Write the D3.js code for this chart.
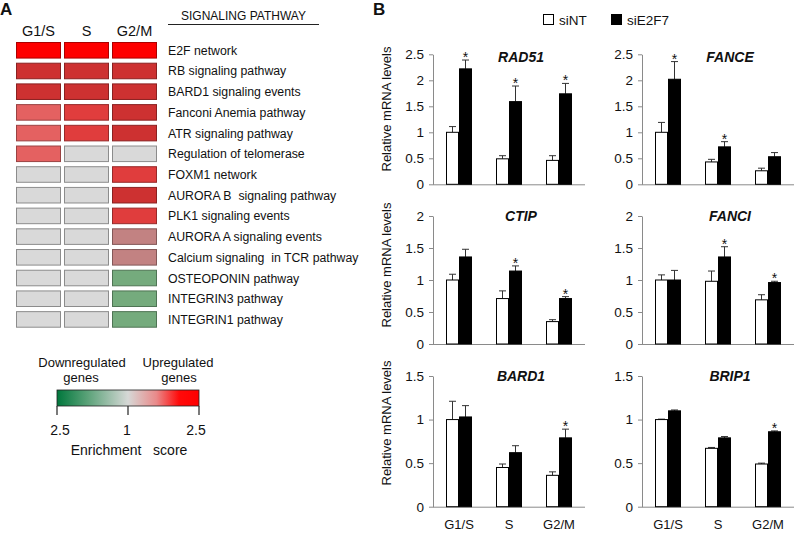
<!DOCTYPE html>
<html><head><meta charset="utf-8">
<script src="https://cdn.jsdelivr.net/npm/d3@7"></script>
<style>
body{margin:0;background:#fff}
text{font-family:Arial,"Liberation Sans",sans-serif;fill:#111}
</style>
</head><body>
<svg id="c" width="794" height="533" xmlns="http://www.w3.org/2000/svg"></svg>
<script>
// ---------- Panel A data ----------
const phases = ["G1/S", "S", "G2/M"];
const pathways = ["E2F network", "RB signaling pathway", "BARD1 signaling events",
  "Fanconi Anemia pathway", "ATR signaling pathway", "Regulation of telomerase",
  "FOXM1 network", "AURORA B  signaling pathway", "PLK1 signaling events",
  "AURORA A signaling events", "Calcium signaling  in TCR pathway",
  "OSTEOPONIN pathway", "INTEGRIN3 pathway", "INTEGRIN1 pathway"];
// enrichment level per pathway (3 strongest up, 0 = not enriched, -1 = down)
const levelG1S = [3, 2, 2, 1, 1, 1, 0, 0, 0, 0, 0, 0, 0, 0];
const levelS   = [3, 2, 2, 1.5, 1.5, 0, 0, 0, 0, 0, 0, 0, 0, 0];
const levelG2M = [3, 2, 2, 2, 2, 0, 1.5, 2, 1.5, 0.5, 0.5, -1, -1, -1];
const levelKeys = [3, 2, 1.5, 1, 0.5, 0, -1];
const levelColors = ["#fe0000", "#cd3131", "#e03d3d", "#e46161", "#c28282", "#d9d9d9", "#75ab7d"];
const colorbarTickLabels = ["2.5", "1", "2.5"];

// ---------- Panel B data ----------
const genes = ["RAD51", "FANCE", "CTIP", "FANCI", "BARD1", "BRIP1"];
const siNT_RAD51 = [1.00, 0.49, 0.46], siNTerr_RAD51 = [0.11, 0.06, 0.09];
const siE2F7_RAD51 = [2.22, 1.59, 1.74], siE2F7err_RAD51 = [0.17, 0.30, 0.20];
const sig_RAD51 = [1, 1, 1];
const siNT_FANCE = [1.00, 0.43, 0.26], siNTerr_FANCE = [0.19, 0.05, 0.05];
const siE2F7_FANCE = [2.02, 0.72, 0.53], siE2F7err_FANCE = [0.34, 0.10, 0.08];
const sig_FANCE = [1, 1, 0];
const siNT_CTIP = [1.00, 0.71, 0.35], siNTerr_CTIP = [0.09, 0.12, 0.03];
const siE2F7_CTIP = [1.36, 1.14, 0.71], siE2F7err_CTIP = [0.12, 0.08, 0.03];
const sig_CTIP = [0, 1, 1];
const siNT_FANCI = [1.00, 0.98, 0.69], siNTerr_FANCI = [0.08, 0.16, 0.08];
const siE2F7_FANCI = [1.00, 1.36, 0.96], siE2F7err_FANCI = [0.15, 0.16, 0.02];
const sig_FANCI = [0, 1, 1];
const siNT_BARD1 = [1.00, 0.45, 0.36], siNTerr_BARD1 = [0.21, 0.04, 0.04];
const siE2F7_BARD1 = [1.03, 0.62, 0.79], siE2F7err_BARD1 = [0.13, 0.08, 0.10];
const sig_BARD1 = [0, 0, 1];
const siNT_BRIP1 = [1.00, 0.67, 0.49], siNTerr_BRIP1 = [0.005, 0.01, 0.01];
const siE2F7_BRIP1 = [1.10, 0.79, 0.86], siE2F7err_BRIP1 = [0.01, 0.015, 0.01];
const sig_BRIP1 = [0, 0, 1];
const yMaxRow = [2.5, 2, 1.5];
const yTicksRow = [[0, 0.5, 1, 1.5, 2, 2.5], [0, 0.5, 1, 1.5, 2], [0, 0.5, 1, 1.5]];
const seriesNames = ["siNT", "siE2F7"];

const geneTable = {
  RAD51: [siNT_RAD51, siNTerr_RAD51, siE2F7_RAD51, siE2F7err_RAD51, sig_RAD51],
  FANCE: [siNT_FANCE, siNTerr_FANCE, siE2F7_FANCE, siE2F7err_FANCE, sig_FANCE],
  CTIP: [siNT_CTIP, siNTerr_CTIP, siE2F7_CTIP, siE2F7err_CTIP, sig_CTIP],
  FANCI: [siNT_FANCI, siNTerr_FANCI, siE2F7_FANCI, siE2F7err_FANCI, sig_FANCI],
  BARD1: [siNT_BARD1, siNTerr_BARD1, siE2F7_BARD1, siE2F7err_BARD1, sig_BARD1],
  BRIP1: [siNT_BRIP1, siNTerr_BRIP1, siE2F7_BRIP1, siE2F7err_BRIP1, sig_BRIP1]
};

const svg = d3.select("#c");

// ================= Panel A =================
svg.append("text").attr("x", 0).attr("y", 15).attr("font-size", 17).attr("font-weight", "bold").text("A");

const hx = d3.scaleBand().domain(phases).range([16, 157]).paddingInner(0.0625);
const hy = d3.scaleBand().domain(pathways).range([42, 327.7]).paddingInner(0.2);
const hColor = d3.scaleOrdinal().domain(levelKeys).range(levelColors);

svg.selectAll("text.ph").data(phases).enter().append("text")
  .attr("class", "ph")
  .attr("x", d => hx(d) + hx.bandwidth() / 2).attr("y", 36)
  .attr("text-anchor", "middle").attr("font-size", 14.5).text(d => d);

svg.append("text").attr("x", 181).attr("y", 20).attr("font-size", 12).text("SIGNALING PATHWAY");
svg.append("line").attr("x1", 168).attr("x2", 319).attr("y1", 24.5).attr("y2", 24.5)
  .attr("stroke", "#222").attr("stroke-width", 1);

const levelsByPhase = [levelG1S, levelS, levelG2M];
const cells = [];
pathways.forEach((p, i) => phases.forEach((ph, j) => cells.push({p, ph, v: levelsByPhase[j][i]})));
svg.selectAll("rect.cell").data(cells).enter().append("rect")
  .attr("class", "cell")
  .attr("x", d => hx(d.ph) + 0.5).attr("y", d => hy(d.p) + 0.5)
  .attr("width", hx.bandwidth() - 1).attr("height", hy.bandwidth() - 1)
  .attr("fill", d => hColor(d.v))
  .attr("stroke", d => d.v === 0 ? "#8c8c8c" : d3.color(hColor(d.v)).darker(1.1))
  .attr("stroke-width", 1);

svg.selectAll("text.pw").data(pathways).enter().append("text")
  .attr("class", "pw")
  .attr("x", 168).attr("y", d => hy(d) + hy.bandwidth() / 2 + 4.5)
  .attr("font-size", 12.3).style("white-space", "pre").attr("xml:space", "preserve").text(d => d);

// colour bar
const defs = svg.append("defs");
const grad = defs.append("linearGradient").attr("id", "gbar").attr("x1", "0%").attr("x2", "100%");
[[0, "#00773c"], [0.22, "#5da37a"], [0.5, "#d6d8d6"], [0.7, "#e98a8a"], [0.86, "#ff0a0a"], [1, "#ff0000"]]
  .forEach(s => grad.append("stop").attr("offset", s[0]).attr("stop-color", s[1]));
const cbx = d3.scaleLinear().domain([0, 2]).range([57, 199]);
svg.append("rect").attr("x", cbx(0)).attr("y", 390).attr("width", cbx(2) - cbx(0)).attr("height", 16)
  .attr("fill", "url(#gbar)").attr("stroke", "#222").attr("stroke-width", 0.8);
const cbAxis = svg.append("g");
colorbarTickLabels.forEach((t, i) => {
  cbAxis.append("line").attr("x1", cbx(i)).attr("x2", cbx(i)).attr("y1", 406).attr("y2", 415)
    .attr("stroke", "#222").attr("stroke-width", 1.2);
  cbAxis.append("text").attr("x", cbx(i) + (i === 0 ? 3 : i === 2 ? -3 : -1)).attr("y", 435)
    .attr("text-anchor", "middle").attr("font-size", 14).text(t);
});
svg.append("text").attr("x", 82).attr("y", 367).attr("text-anchor", "middle").attr("font-size", 13).text("Downregulated");
svg.append("text").attr("x", 81).attr("y", 382).attr("text-anchor", "middle").attr("font-size", 13).text("genes");
svg.append("text").attr("x", 178).attr("y", 367).attr("text-anchor", "middle").attr("font-size", 13).text("Upregulated");
svg.append("text").attr("x", 179).attr("y", 382).attr("text-anchor", "middle").attr("font-size", 13).text("genes");
svg.append("text").attr("x", 129).attr("y", 455).attr("text-anchor", "middle").attr("font-size", 14)
  .style("white-space", "pre").attr("xml:space", "preserve").text("Enrichment   score");

// ================= Panel B =================
svg.append("text").attr("x", 373).attr("y", 15).attr("font-size", 17).attr("font-weight", "bold").text("B");

// legend
const legFill = ["#ffffff", "#000000"];
const legX = [543, 611];
seriesNames.forEach((s, i) => {
  svg.append("rect").attr("x", legX[i] + 0.5).attr("y", 14.5).attr("width", 10).attr("height", 10)
    .attr("fill", legFill[i]).attr("stroke", "#000").attr("stroke-width", 1);
  svg.append("text").attr("x", legX[i] + 16).attr("y", 25).attr("font-size", 13.5).text(s);
});

const colX0 = [433, 642];
const rowY0 = [184.3, 344, 506.7];
const rowTop = [54.3, 216, 376];
const rowTitleY = [62, 221, 381];
const rowYLabel = [109, 265, 423];

genes.forEach((g, i) => {
  const col = i % 2, row = Math.floor(i / 2);
  const x0 = colX0[col];
  const [nt, ntErr, e7, e7Err, sig] = geneTable[g];
  const x = d3.scaleBand().domain(phases).range([x0 + 1, x0 + 151]);
  const y = d3.scaleLinear().domain([0, yMaxRow[row]]).range([rowY0[row], rowTop[row]]);
  const sub = d3.scaleBand().domain(seriesNames).range([-13, 13]);
  const gg = svg.append("g");

  const ax = gg.append("g").attr("transform", `translate(${x0},0)`)
    .call(d3.axisLeft(y).tickValues(yTicksRow[row]).tickSize(4).tickSizeOuter(0).tickPadding(5)
      .tickFormat(d3.format("")));
  ax.select(".domain").attr("stroke", "#8a8a8a");
  ax.selectAll(".tick line").attr("stroke", "#8a8a8a");
  ax.selectAll(".tick text").attr("font-size", 13.5).attr("font-family", "Arial, 'Liberation Sans', sans-serif").attr("fill", "#222");

  const xa = gg.append("g").attr("transform", `translate(0,${rowY0[row]})`)
    .call(d3.axisBottom(x).tickSize(0).tickSizeOuter(0).tickFormat(row === 2 ? (d => d) : () => ""));
  xa.select(".domain").attr("stroke", "#8a8a8a").attr("d", `M${x0},0.5H${x0 + 152}`);
  xa.selectAll(".tick text").attr("font-size", 13).attr("font-family", "Arial, 'Liberation Sans', sans-serif")
    .attr("fill", "#222").attr("dy", "0").attr("y", 22);

  const bars = [];
  phases.forEach((ph, k) => {
    bars.push({ph, s: "siNT", v: nt[k], e: ntErr[k], sig: 0});
    bars.push({ph, s: "siE2F7", v: e7[k], e: e7Err[k], sig: sig[k]});
  });
  const cx = d => x(d.ph) + x.bandwidth() / 2 + sub(d.s) + sub.bandwidth() / 2;

  // error bars
  gg.selectAll("line.err").data(bars).enter().append("line")
    .attr("x1", cx).attr("x2", cx).attr("y1", d => y(d.v)).attr("y2", d => y(d.v + d.e))
    .attr("stroke", "#333").attr("stroke-width", 1);
  gg.selectAll("line.cap").data(bars).enter().append("line")
    .attr("x1", d => cx(d) - 3.5).attr("x2", d => cx(d) + 3.5)
    .attr("y1", d => y(d.v + d.e)).attr("y2", d => y(d.v + d.e))
    .attr("stroke", "#333").attr("stroke-width", 1);

  gg.selectAll("rect.bar").data(bars).enter().append("rect")
    .attr("x", d => x(d.ph) + x.bandwidth() / 2 + sub(d.s) + 0.5)
    .attr("y", d => y(d.v))
    .attr("width", sub.bandwidth() - 1)
    .attr("height", d => y(0) - y(d.v))
    .attr("fill", d => d.s === "siNT" ? "#fff" : "#000")
    .attr("stroke", "#000").attr("stroke-width", 1);

  gg.selectAll("text.star").data(bars.filter(d => d.sig)).enter().append("text")
    .attr("x", cx).attr("y", d => y(d.v + d.e) + 2)
    .attr("text-anchor", "middle").attr("font-size", 14).text("*");

  gg.append("text").attr("x", x0 + 88).attr("y", rowTitleY[row]).attr("text-anchor", "middle")
    .attr("font-size", 14).attr("font-weight", "bold").attr("font-style", "italic").text(g);

  if (col === 0) {
    gg.append("text").attr("transform", `translate(391,${rowYLabel[row]}) rotate(-90)`)
      .attr("text-anchor", "middle").attr("font-size", 13).text("Relative mRNA levels");
  }
});
</script>
</body></html>
